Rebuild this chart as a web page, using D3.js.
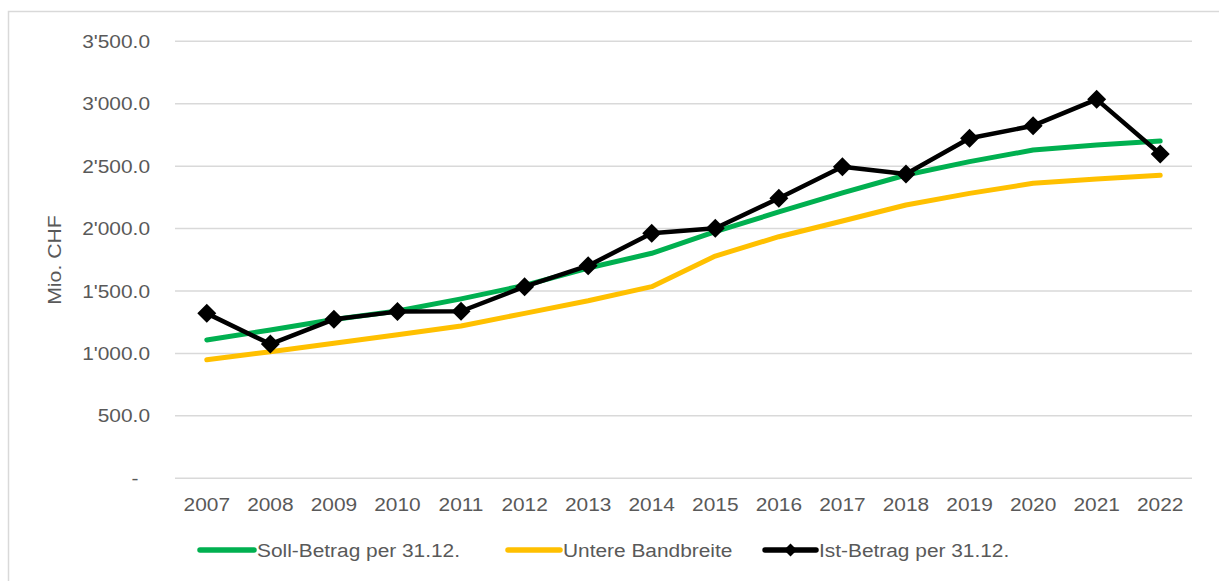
<!DOCTYPE html>
<html><head><meta charset="utf-8">
<script src="https://cdn.jsdelivr.net/npm/d3@7"></script>
<style>
html,body{margin:0;padding:0;background:#fff;}
svg text{font-family:"Liberation Sans",Arial,sans-serif;fill:#595959;}
</style></head>
<body>
<svg id="c" width="1219" height="581"></svg>
<script>
const years = ["2007","2008","2009","2010","2011","2012","2013","2014","2015","2016","2017","2018","2019","2020","2021","2022"];
const soll = [1108,1188,1272,1340,1437,1545,1684,1802,1975,2133,2286,2429,2536,2629,2669,2701];
const untere = [949,1014,1081,1149,1220,1321,1422,1535,1780,1935,2061,2189,2282,2363,2397,2427];
const ist = [1321,1075,1273,1335,1338,1535,1703,1962,2002,2243,2496,2437,2723,2824,3035,2597];
const yTicks = [0,500,1000,1500,2000,2500,3000,3500];
const seriesNames = ["Soll-Betrag per 31.12.","Untere Bandbreite","Ist-Betrag per 31.12."];
const colors = ["#00B050","#FFC000","#000000"];

const svg = d3.select("#c");
const SX = 1.16;
// outer border (top and left visible)
svg.append("rect").attr("x",8.5).attr("y",11.5).attr("width",1230).attr("height",600)
  .attr("fill","none").attr("stroke","#d9d9d9").attr("stroke-width",1.5);

const x = d3.scaleBand().domain(years).range([175,1192]);
const y = d3.scaleLinear().domain([0,3500]).range([478.3,41.3]);

const fmt = v => v===0 ? "-" : d3.format(",.1f")(v).replace(/,/g,"'");

// gridlines
svg.append("g").selectAll("line").data(yTicks).join("line")
  .attr("x1",175).attr("x2",1192).attr("y1",d=>y(d)).attr("y2",d=>y(d))
  .attr("stroke","#d9d9d9").attr("stroke-width",1.5);

// y labels
svg.append("g").selectAll("text").data(yTicks).join("text")
  .attr("text-anchor",d=>d===0?"middle":"end")
  .attr("transform",d=>`translate(${d===0?135:150},${y(d)+6.5}) scale(${SX},1)`)
  .style("font-size","18px").text(fmt);

// x labels
svg.append("g").selectAll("text").data(years).join("text")
  .attr("text-anchor","middle")
  .attr("transform",d=>`translate(${x(d)+x.bandwidth()/2},${511}) scale(${SX},1)`)
  .style("font-size","18px").text(d=>d);

// y title
svg.append("text").attr("text-anchor","middle")
  .attr("transform","translate(61,260) rotate(-90) scale(1.18,1)")
  .style("font-size","18px").text("Mio. CHF");

const cx = d => x(d)+x.bandwidth()/2;
const line = d3.line().x((d,i)=>cx(years[i])).y(d=>y(d));

const data = [soll, untere, ist];
data.forEach((s,k)=>{
  svg.append("path").datum(s).attr("d",line).attr("fill","none")
    .attr("stroke",colors[k]).attr("stroke-width",k===2?4.5:5)
    .attr("stroke-linejoin","round").attr("stroke-linecap","round");
});

// diamonds
const dsz = 9.5;
svg.append("g").selectAll("path").data(ist).join("path")
  .attr("d",(d,i)=>{const px=cx(years[i]), py=y(d); return `M${px},${py-dsz}L${px+dsz},${py}L${px},${py+dsz}L${px-dsz},${py}Z`;})
  .attr("fill","#000");

// legend
const legY = 550;
const leg = [
  {x1:200,x2:254,tx:257},
  {x1:508,x2:560,tx:563},
  {x1:765,x2:816,tx:819}
];
leg.forEach((l,k)=>{
  svg.append("line").attr("x1",l.x1).attr("x2",l.x2).attr("y1",legY).attr("y2",legY)
    .attr("stroke",colors[k]).attr("stroke-width",5.5).attr("stroke-linecap","round");
  if(k===2){
    const px=(l.x1+l.x2)/2, s=6.5;
    svg.append("path").attr("d",`M${px},${legY-s}L${px+s},${legY}L${px},${legY+s}L${px-s},${legY}Z`).attr("fill","#000");
  }
  svg.append("text").attr("transform",`translate(${l.tx},${legY+6.5}) scale(${SX},1)`)
    .style("font-size","18px").text(seriesNames[k]);
});
</script>
</body></html>
